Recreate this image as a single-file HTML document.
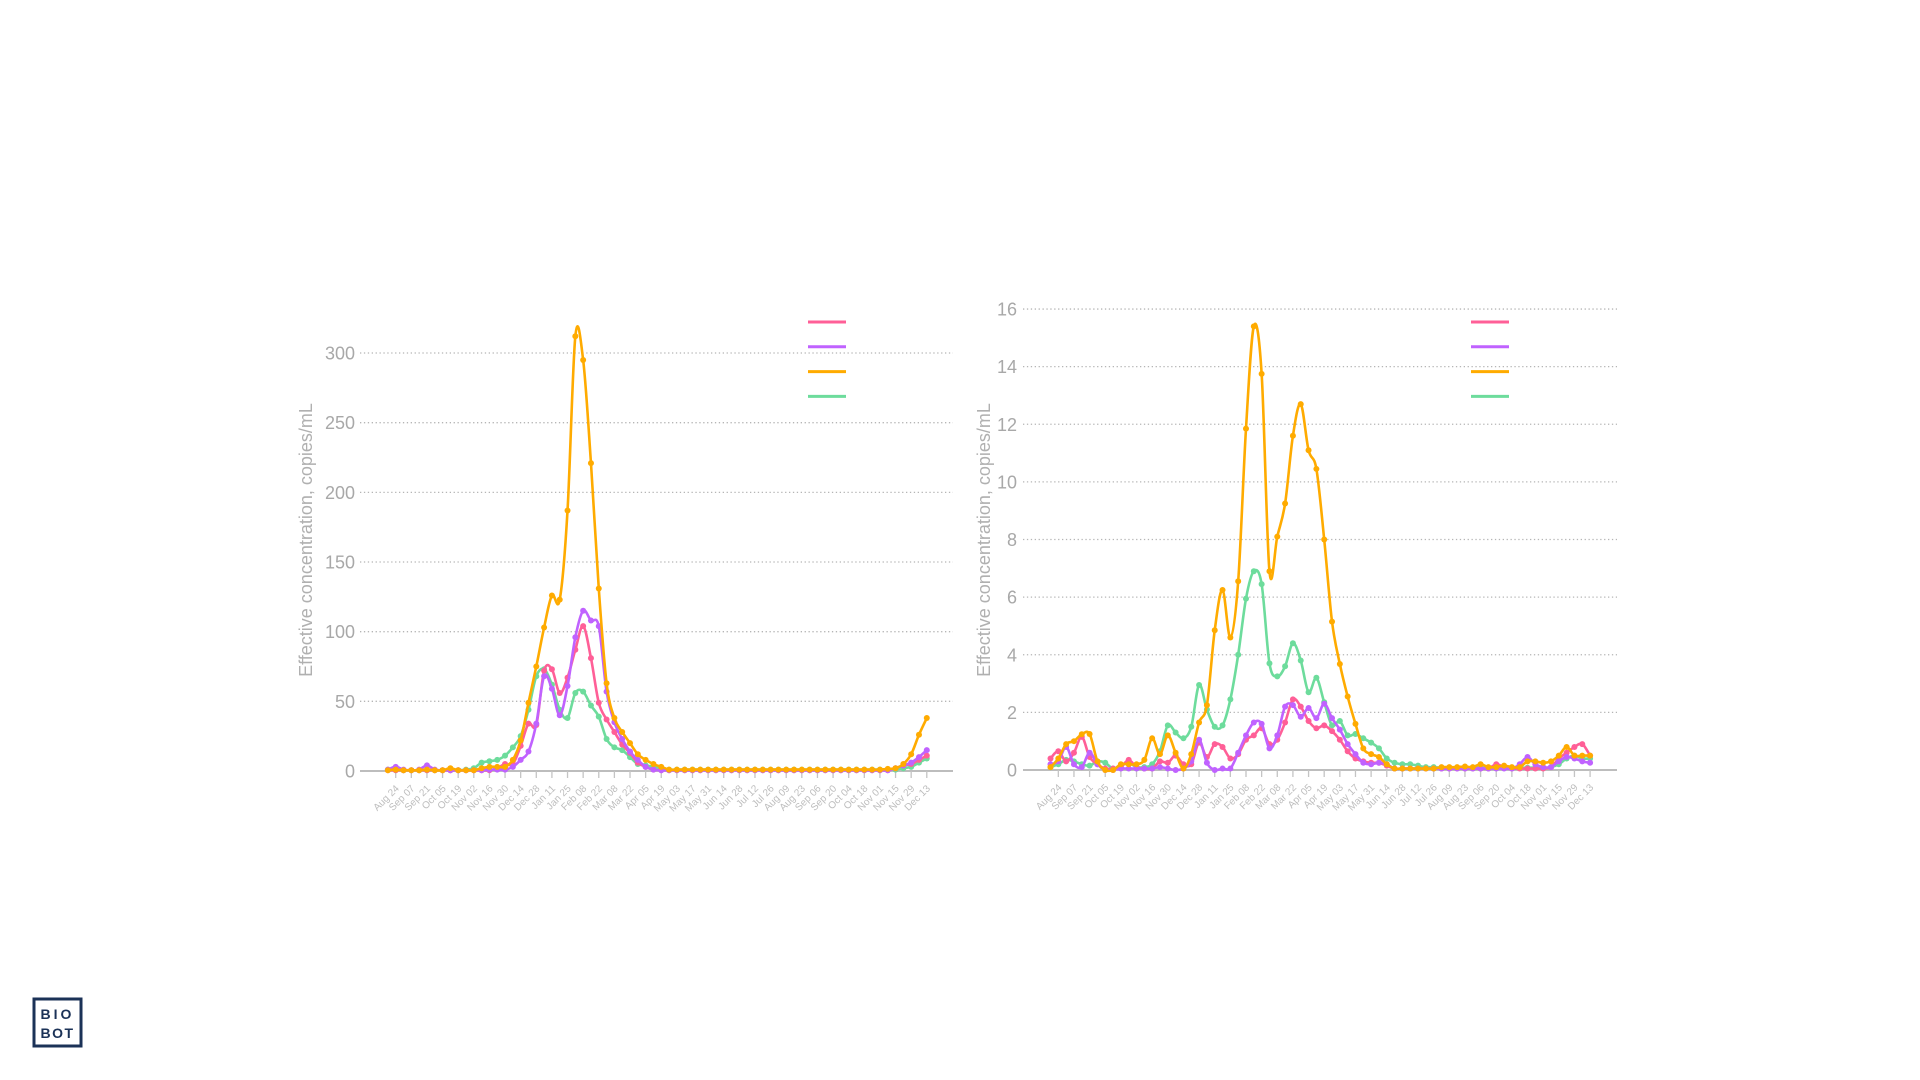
<!DOCTYPE html>
<html><head><meta charset="utf-8"><style>
html,body{margin:0;padding:0;background:#fff;width:1920px;height:1080px;overflow:hidden}
svg{display:block}
</style></head><body>
<svg id="s" width="1920" height="1080" viewBox="0 0 1920 1080" xmlns="http://www.w3.org/2000/svg" font-family="Liberation Sans, sans-serif">
<rect x="34" y="999" width="47" height="47" fill="none" stroke="#1b3257" stroke-width="3"/>
<text x="57.5" y="1019" text-anchor="middle" font-size="14" font-weight="bold" fill="#1b3257" letter-spacing="3">BIO</text>
<text x="57.5" y="1038" text-anchor="middle" font-size="14" font-weight="bold" fill="#1b3257" letter-spacing="1.5">BOT</text>
</svg>
<script>
var NS="http://www.w3.org/2000/svg",S=document.getElementById('s');
function el(t,a,txt){var e=document.createElementNS(NS,t);for(var k in a)e.setAttribute(k,a[k]);if(txt!==undefined)e.textContent=txt;S.appendChild(e);return e;}
function rep(v,n){var a=[];for(var i=0;i<n;i++)a.push(v);return a;}
var labels="Aug 24,Sep 07,Sep 21,Oct 05,Oct 19,Nov 02,Nov 16,Nov 30,Dec 14,Dec 28,Jan 11,Jan 25,Feb 08,Feb 22,Mar 08,Mar 22,Apr 05,Apr 19,May 03,May 17,May 31,Jun 14,Jun 28,Jul 12,Jul 26,Aug 09,Aug 23,Sep 06,Sep 20,Oct 04,Oct 18,Nov 01,Nov 15,Nov 29,Dec 13".split(",");
var C={pink:"#ff5f97",purple:"#c062ff",orange:"#ffab00",green:"#6ddc9c"};
function chart(o){
  var y=function(v){return o.y0-v*o.ppu;};
  var x=function(i){return o.x0+o.dx*i;};
  o.ticks.forEach(function(t){
    var yy=y(t);
    if(t>0) el('line',{x1:o.gx0,x2:o.gx1,y1:yy,y2:yy,stroke:"#b5b5b5","stroke-width":1.3,"stroke-dasharray":"1.3 2.6"});
    el('text',{x:o.lx,y:yy+6.5,"text-anchor":"end","font-size":18,fill:"#a8a8a8"},String(t));
  });
  el('line',{x1:o.gx0,x2:o.gx1,y1:o.y0,y2:o.y0,stroke:"#bdbdbd","stroke-width":2});
  for(var k=0;k<35;k++){var xx=x(1+2*k);
    el('line',{x1:xx,x2:xx,y1:o.y0,y2:o.y0+7,stroke:"#c4c4c4","stroke-width":1.3});
    el('text',{x:xx+4,y:o.y0+18,"text-anchor":"end","font-size":10,fill:"#bdbdbd",transform:"rotate(-45 "+(xx+4)+" "+(o.y0+18)+")"},labels[k]);}
  el('text',{x:0,y:0,"text-anchor":"middle","font-size":18,fill:"#b0b0b0",transform:"translate("+o.tx+",540) rotate(-90)"},"Effective concentration, copies/mL");
  ["pink","purple","orange","green"].forEach(function(c,j){
    el('line',{x1:o.lg,x2:o.lg+38,y1:322+j*24.8,y2:322+j*24.8,stroke:C[c],"stroke-width":3});
  });
  ["green","pink","purple","orange"].forEach(function(c){
    var d=o.data[c],p=d.map(function(v,i){return [x(i),y(v)];});
    var s="M"+p[0][0]+","+p[0][1];
    for(var i=0;i<p.length-1;i++){var p0=p[Math.max(0,i-1)],p1=p[i],p2=p[i+1],p3=p[Math.min(p.length-1,i+2)];
      s+=" C"+(p1[0]+(p2[0]-p0[0])/6)+","+(p1[1]+(p2[1]-p0[1])/6)+" "+(p2[0]-(p3[0]-p1[0])/6)+","+(p2[1]-(p3[1]-p1[1])/6)+" "+p2[0]+","+p2[1];}
    el('path',{d:s,fill:"none",stroke:C[c],"stroke-width":2.6});
    p.forEach(function(q){el('circle',{cx:q[0],cy:q[1],r:3,fill:C[c]});});
  });
}
chart({x0:387.9,dx:7.81,y0:771,ppu:1.3933,gx0:360,gx1:953,lx:355,tx:312,lg:808,ticks:[0,50,100,150,200,250,300],
data:{
orange:[0.5,1,0.5,0.5,0.5,1,0.5,0.5,2,0.5,0.5,0.5,2,3].concat([3,3,8,22,49,75,103,126,123,187,312,295,221,131,63,38,28,20,12,8,5,3],rep(1,28),[1.5,2,5,12,26,38]),
purple:[1,3,1,0.5,1,4,1,0.5,0.5,0.5,0.5,0.5,0.5,1,1].concat([1,3,8,14,34,68,59,40,61,96,115,108,104,57,35,23,14,8,3,1],rep(0.5,30),[2,4,6,10,15]),
pink:rep(0.5,14).concat([2,5,5,18,34,33,72,73,56,67,87,104,81,49,37,28,19,13,6,3,1],rep(0.5,30),[2,4,5,8,11]),
green:[1,0.5,0.5,0.5,0.5,0.5,0.5,0.5,0.5,0.5,1].concat([2,6,7,8,11,17,25,44,68,73,62,44,38,56,57,47,39,23,17,15,10,5,4,3,2],rep(1,30),[2,3,6,9])
}});
chart({x0:1050.5,dx:7.82,y0:770,ppu:28.81,gx0:1023,gx1:1617,lx:1017,tx:990,lg:1471,ticks:[0,2,4,6,8,10,12,14,16],
data:{
orange:[0.1,0.4,0.9,1.0,1.24,1.25,0.3,0,0,0.2,0.2,0.2,0.35,1.1,0.55,1.2,0.6,0.05,0.55,1.65,2.25,4.85,6.25,4.6,6.55,11.85,15.4,13.75,6.9,8.1,9.25,11.6,12.7,11.1,10.45,8.0,5.15,3.68,2.55,1.6,0.75,0.55,0.45,0.2,0.05,0.05,0.05,0.05,0.05,0.05,0.1,0.1,0.1,0.12,0.1,0.2,0.1,0.1,0.15,0.1,0.1,0.3,0.3,0.25,0.3,0.5,0.8,0.5,0.5,0.5],
green:[0.1,0.2,0.35,0.3,0.2,0.15,0.3,0.25,0.05,0.15,0.25,0.1,0.1,0.2,0.65,1.55,1.3,1.1,1.5,2.95,2.1,1.5,1.55,2.45,4.0,5.95,6.9,6.45,3.7,3.25,3.6,4.4,3.8,2.7,3.2,2.35,1.55,1.7,1.2,1.25,1.1,0.95,0.75,0.4,0.25,0.2,0.2,0.15,0.1,0.1].concat(rep(0.08,14),[0.1,0.2,0.4,0.5,0.4,0.4]),
pink:[0.4,0.65,0.3,0.6,1.15,0.45,0.2,0.05,0.05,0.1,0.35,0.1,0.05,0.05,0.3,0.25,0.5,0.2,0.2,0.95,0.45,0.9,0.8,0.4,0.55,1.05,1.2,1.45,0.9,1.05,1.65,2.45,2.2,1.7,1.45,1.55,1.35,1.05,0.65,0.4,0.3,0.25,0.25,0.15].concat(rep(0.05,13),[0.2,0.1,0.05,0.05,0.05,0.05,0.05,0.1,0.4,0.6,0.8,0.9,0.5]),
purple:[0.2,0.3,0.8,0.2,0.1,0.6,0.2,0,0,0.05,0.05,0.05,0.05,0.05,0.1,0.05,0,0.05,0.3,1.05,0.25,0,0.05,0.05,0.6,1.2,1.65,1.6,0.75,1.2,2.2,2.25,1.85,2.15,1.8,2.3,1.8,1.4,0.9,0.55,0.25,0.2,0.25,0.2].concat(rep(0.05,16),[0.2,0.45,0.2,0.1,0.1,0.3,0.45,0.4,0.3,0.25])
}});
</script>
</body></html>
